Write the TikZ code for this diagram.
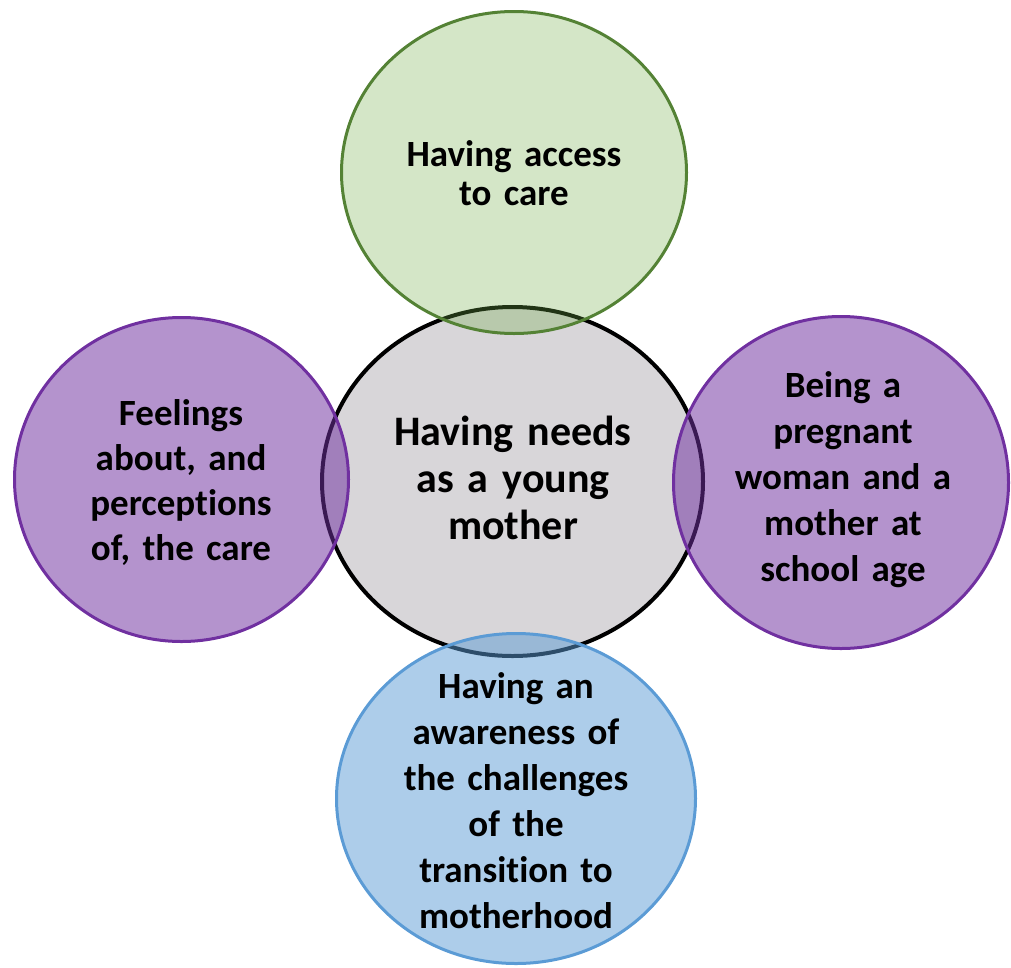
\documentclass[tikz,border=0pt]{standalone}
\usepackage{fontspec}
\setmainfont{Carlito}[Ligatures=NoCommon]
\usetikzlibrary{shapes.geometric}
\definecolor{hubfill}{RGB}{216,214,217}
\definecolor{greenbase}{HTML}{70AD47}
\definecolor{greenline}{HTML}{548235}
\definecolor{purplebase}{HTML}{7030A0}
\definecolor{bluebase}{HTML}{5B9BD5}
\begin{document}
\begin{tikzpicture}[x=1pt,y=-1pt,
  bubble/.style={ellipse, inner sep=0pt, outer sep=0pt},
  hub/.style={bubble, draw=black, line width=4pt, fill=hubfill},
  greenbubble/.style={bubble, draw=greenline, line width=3pt, fill=greenbase, fill opacity=0.3, draw opacity=1},
  purplebubble/.style={bubble, draw=purplebase, line width=3pt, fill=purplebase, fill opacity=0.52, draw opacity=1},
  bluebubble/.style={bubble, draw=bluebase, line width=3pt, fill=bluebase, fill opacity=0.5, draw opacity=1},
  caption/.style={anchor=base, text width=330pt, align=center, inner sep=0pt, font=\bfseries\fontsize{37}{46}\selectfont}
]
\useasboundingbox (0,0) rectangle (1011,967);

% central theme
\node[hub, minimum width=381pt, minimum height=349pt] (hub) at (512.5,481.5) {};

% surrounding themes, translucent so the hub outline shows through
\node[greenbubble, minimum width=345pt, minimum height=322pt] (access) at (514,172.5) {};
\node[purplebubble, minimum width=334pt, minimum height=324pt] (feelings) at (181.5,479.5) {};
\node[purplebubble, minimum width=335pt, minimum height=332pt] (school) at (841,482.5) {};
\node[bluebubble, minimum width=359pt, minimum height=330pt] (awareness) at (516,798.5) {};

% texts
\node[caption, font=\bfseries\fontsize{42}{47}\selectfont] (hubtext) at (513,445)
  {Having needs\\as a young\\mother};
\node[caption, font=\bfseries\fontsize{37}{39}\selectfont] (accesstext) at (514,166)
  {Having access\\to care};
\node[caption, font=\bfseries\fontsize{37}{45}\selectfont] (feelingstext) at (181,425)
  {Feelings\\about, and\\perceptions\\of, the care};
\node[caption] (schooltext) at (843,397)
  {Being a\\pregnant\\woman and a\\mother at\\school age};
\node[caption] (awarenesstext) at (516,698)
  {Having an\\awareness of\\the challenges\\of the\\transition to\\motherhood};
\end{tikzpicture}
\end{document}
